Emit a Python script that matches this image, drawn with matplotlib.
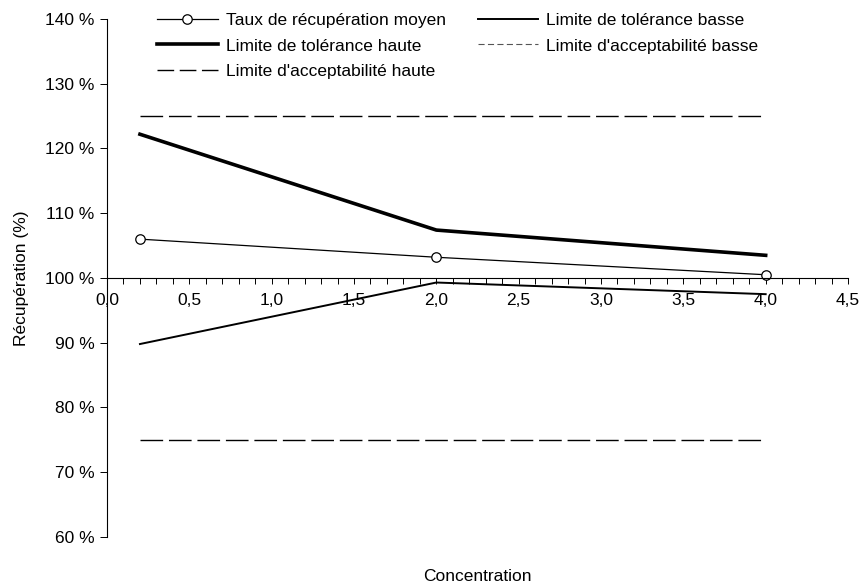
import matplotlib
matplotlib.use("Agg")
import matplotlib.pyplot as plt
from matplotlib.ticker import MultipleLocator, FuncFormatter

plt.rcParams['font.family'] = ['Liberation Sans', 'DejaVu Sans']

# data
concentration = [0.2, 2.0, 4.0]
taux_moyen = [106.0, 103.2, 100.5]
tol_haute = [122.2, 107.4, 103.5]
tol_basse = [89.8, 99.3, 97.5]
accept_haute = [125.0, 125.0, 125.0]
accept_basse = [75.0, 75.0, 75.0]

x_ticks = [0.0, 0.5, 1.0, 1.5, 2.0, 2.5, 3.0, 3.5, 4.0, 4.5]
y_ticks = [60, 70, 80, 90, 100, 110, 120, 130, 140]

FS = 12.5
DASH = (16.3, 4.2)

fig = plt.figure(figsize=(8.61, 5.84), dpi=100)
ax = fig.add_axes([0.1243, 0.0805, 0.8606, 0.887])

h_moy, = ax.plot(concentration, taux_moyen, color="black", lw=0.9, marker="o",
                 markersize=6.8, markerfacecolor="white", markeredgecolor="black",
                 markeredgewidth=0.9, label="Taux de récupération moyen")
h_th, = ax.plot(concentration, tol_haute, color="black", lw=2.6,
                label="Limite de tolérance haute")
h_ah, = ax.plot(concentration, accept_haute, color="black", lw=1.0,
                dashes=DASH, label="Limite d'acceptabilité haute")
h_tb, = ax.plot(concentration, tol_basse, color="black", lw=1.4,
                label="Limite de tolérance basse")
h_ab, = ax.plot(concentration, accept_basse, color="black", lw=1.0,
                dashes=DASH, label="Limite d'acceptabilité basse")
# legend entries for the dashed limits
leg_ah, = ax.plot([], [], color="black", lw=1.0, dashes=(12, 4))
leg_ab, = ax.plot([], [], color="#555555", lw=0.8, dashes=(5.5, 3))

ax.set_xlim(0, 4.5)
ax.set_ylim(60, 140)
ax.spines['top'].set_visible(False)
ax.spines['right'].set_visible(False)
ax.spines['left'].set_position(('data', 0))
ax.spines['bottom'].set_position(('data', 100))
ax.spines['left'].set_linewidth(0.8)
ax.spines['bottom'].set_linewidth(0.8)

ax.set_xticks(x_ticks)
ax.xaxis.set_minor_locator(MultipleLocator(0.1))
ax.xaxis.set_major_formatter(FuncFormatter(lambda v, p: f"{v:.1f}".replace(".", ",")))
ax.set_yticks(y_ticks)
ax.yaxis.set_major_formatter(FuncFormatter(lambda v, p: f"{v:.0f} %"))
ax.tick_params(axis='x', which='both', direction='out', length=4, width=0.7,
               labelsize=FS, pad=7)
ax.tick_params(axis='y', direction='out', length=5, width=0.7, labelsize=FS, pad=4)

ax.set_xlabel("Concentration", fontsize=FS)
ax.xaxis.set_label_coords(0.5, -0.061)
ax.set_ylabel("Récupération (%)", fontsize=FS)
ax.yaxis.set_label_coords(-0.105, 0.5)

ax.legend([h_moy, h_th, leg_ah, h_tb, leg_ab],
          ["Taux de récupération moyen", "Limite de tolérance haute",
           "Limite d'acceptabilité haute", "Limite de tolérance basse",
           "Limite d'acceptabilité basse"],
          ncol=2, frameon=False, fontsize=FS, handlelength=3.5,
          handletextpad=0.46, columnspacing=1.84, labelspacing=0.59,
          borderpad=0, borderaxespad=0,
          loc='upper left', bbox_to_anchor=(157 / 861, 1 - 13 / 584),
          bbox_transform=fig.transFigure)

fig.savefig("out.png", dpi=100)
